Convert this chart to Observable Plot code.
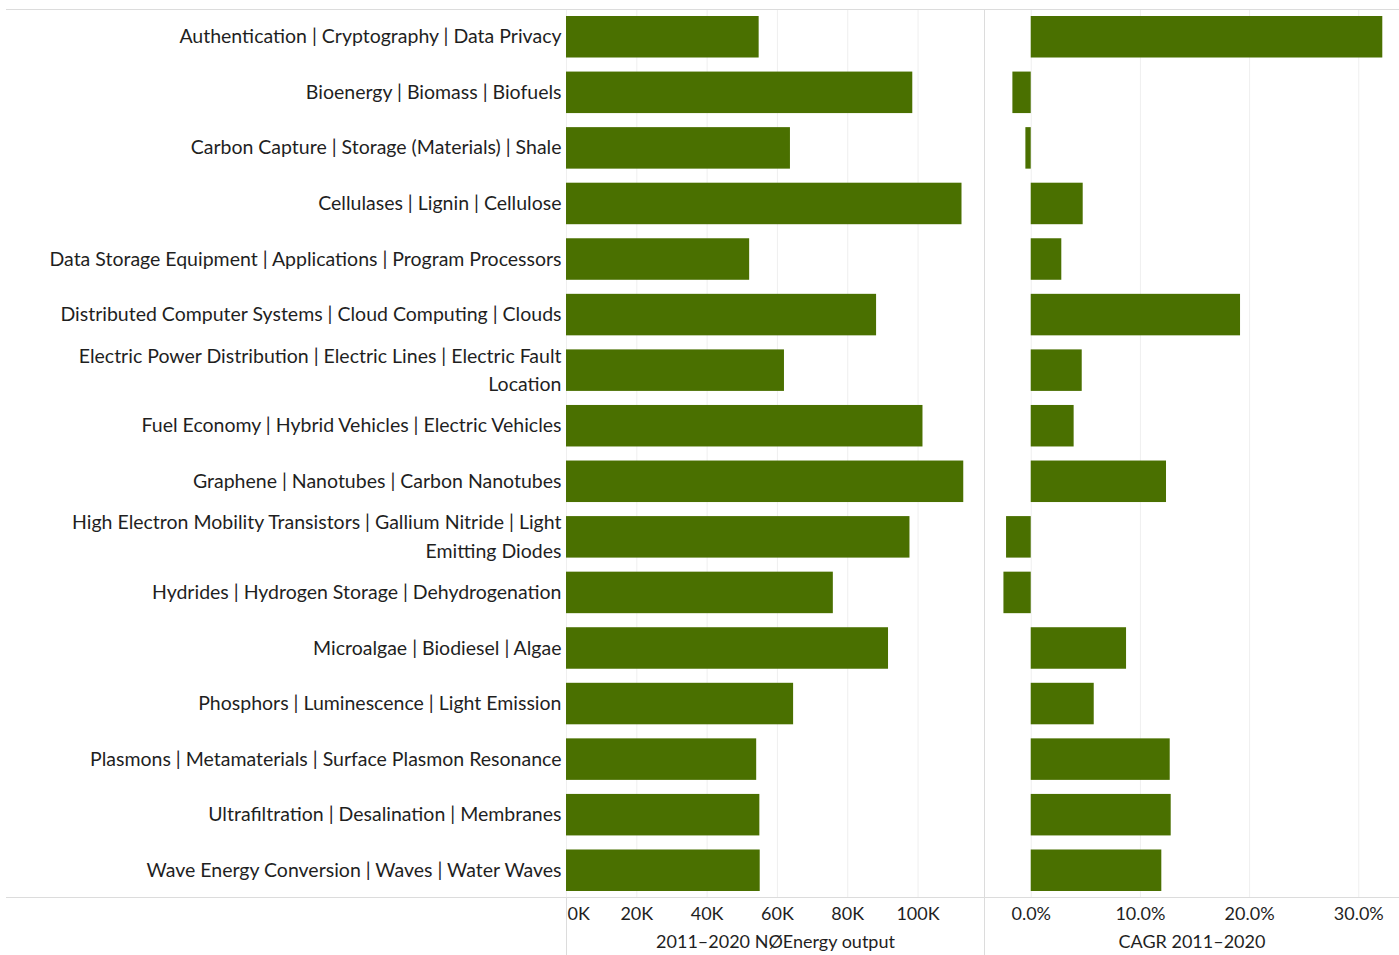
<!DOCTYPE html>
<html>
<head>
<meta charset="utf-8">
<script src="https://cdn.jsdelivr.net/npm/d3@7"></script>
<script src="https://cdn.jsdelivr.net/npm/@observablehq/plot@0.6"></script>
<style>
  html, body { margin: 0; padding: 0; background: #fff; }
  #wrap { position: relative; width: 1399px; height: 955px; font-family: Lato, "Open Sans", sans-serif; }
  #left, #right { position: absolute; top: 0; }
  #left { left: 0; }
  #right { left: 984px; }
  .ln { position: absolute; background: #dcdcdc; }
</style>
</head>
<body>
<div id="wrap">
  <div id="left"></div>
  <div id="right"></div>
  <div class="ln" style="left:6px; top:9px; width:1393px; height:1px;"></div>
  <div class="ln" style="left:6px; top:897px; width:1393px; height:1px;"></div>
  <div class="ln" style="left:566px; top:897px; width:1px; height:58px;"></div>
  <div class="ln" style="left:984px; top:9px; width:1px; height:946px;"></div>
</div>
<script>
const categories = [
  "Authentication | Cryptography | Data Privacy",
  "Bioenergy | Biomass | Biofuels",
  "Carbon Capture | Storage (Materials) | Shale",
  "Cellulases | Lignin | Cellulose",
  "Data Storage Equipment | Applications | Program Processors",
  "Distributed Computer Systems | Cloud Computing | Clouds",
  "Electric Power Distribution | Electric Lines | Electric Fault Location",
  "Fuel Economy | Hybrid Vehicles | Electric Vehicles",
  "Graphene | Nanotubes | Carbon Nanotubes",
  "High Electron Mobility Transistors | Gallium Nitride | Light Emitting Diodes",
  "Hydrides | Hydrogen Storage | Dehydrogenation",
  "Microalgae | Biodiesel | Algae",
  "Phosphors | Luminescence | Light Emission",
  "Plasmons | Metamaterials | Surface Plasmon Resonance",
  "Ultrafiltration | Desalination | Membranes",
  "Wave Energy Conversion | Waves | Water Waves"
];
const output = [54800, 98500, 63700, 112500, 52100, 88200, 62000, 101400, 113000, 97700, 75900, 91600, 64600, 54100, 55000, 55100];
const cagr = [0.322, -0.0168, -0.0049, 0.0476, 0.028, 0.1917, 0.0467, 0.0393, 0.1239, -0.0226, -0.025, 0.0873, 0.0577, 0.1273, 0.1282, 0.1196];
const outputTicks = [0, 20000, 40000, 60000, 80000, 100000];
const cagrTicks = [0, 0.1, 0.2, 0.3];
const outputTitle = "2011–2020 NØEnergy output";
const cagrTitle = "CAGR 2011–2020";

const data = categories.map((c, i) => ({category: c, output: output[i], cagr: cagr[i]}));

function wrap(s, maxChars) {
  const words = s.split(" ");
  const lines = [];
  let cur = "";
  for (const w of words) {
    if (cur && (cur + " " + w).length > maxChars) { lines.push(cur); cur = w; }
    else cur = cur ? cur + " " + w : w;
  }
  if (cur) lines.push(cur);
  return lines.join("\n");
}

const barColor = "#4a7000";
const textColor = "#1f1f1f";
const H = 955, MT = 9, MB = 57;
const yScale = {domain: categories, paddingInner: 0.253, paddingOuter: 0.126, round: false, label: null};
const font = "Lato, 'Open Sans', sans-serif";

const left = Plot.plot({
  width: 984, height: H,
  marginLeft: 566, marginRight: 0, marginTop: MT, marginBottom: MB,
  style: {fontFamily: font, color: textColor, background: "transparent"},
  x: {domain: [0, 118900], label: null},
  y: yScale,
  marks: [
    Plot.gridX(outputTicks, {stroke: "#efefef", strokeOpacity: 1}),
    Plot.barX(data, {x: "output", y: "category", fill: barColor}),
    Plot.axisY({tickSize: 0, tickPadding: 5, fontSize: 19.5, lineHeight: 1.45, dy: -3,
      tickFormat: d => wrap(d, 61), fill: textColor}),
    Plot.axisX([0], {tickSize: 0, tickPadding: 9, fontSize: 18, textAnchor: "start", dx: 1,
      tickFormat: d => d3.format("d")(d / 1000) + "K", fill: textColor, label: null}),
    Plot.axisX(outputTicks.slice(1), {tickSize: 0, tickPadding: 9, fontSize: 18,
      tickFormat: d => d3.format("d")(d / 1000) + "K", fill: textColor,
      label: outputTitle, labelAnchor: "center", labelArrow: "none", labelOffset: 49})
  ]
});

const right = Plot.plot({
  width: 415, height: H,
  marginLeft: 0, marginRight: 0, marginTop: MT, marginBottom: MB,
  style: {fontFamily: font, color: textColor, background: "transparent"},
  x: {domain: [-0.0428, 0.3373], label: null},
  y: {...yScale, axis: null},
  marks: [
    Plot.gridX(cagrTicks, {stroke: "#efefef", strokeOpacity: 1}),
    Plot.barX(data, {x: "cagr", y: "category", fill: barColor}),
    Plot.axisX(cagrTicks, {tickSize: 0, tickPadding: 9, fontSize: 18,
      tickFormat: d3.format(".1%"), fill: textColor,
      label: cagrTitle, labelAnchor: "center", labelArrow: "none", labelOffset: 49})
  ]
});

for (const svg of [left, right]) {
  svg.querySelectorAll("g[aria-label='x-axis label'] text, g[aria-label='x-axis label']").forEach(e => e.setAttribute("font-size", 18));
}

document.getElementById("left").appendChild(left);
document.getElementById("right").appendChild(right);
</script>
</body>
</html>
